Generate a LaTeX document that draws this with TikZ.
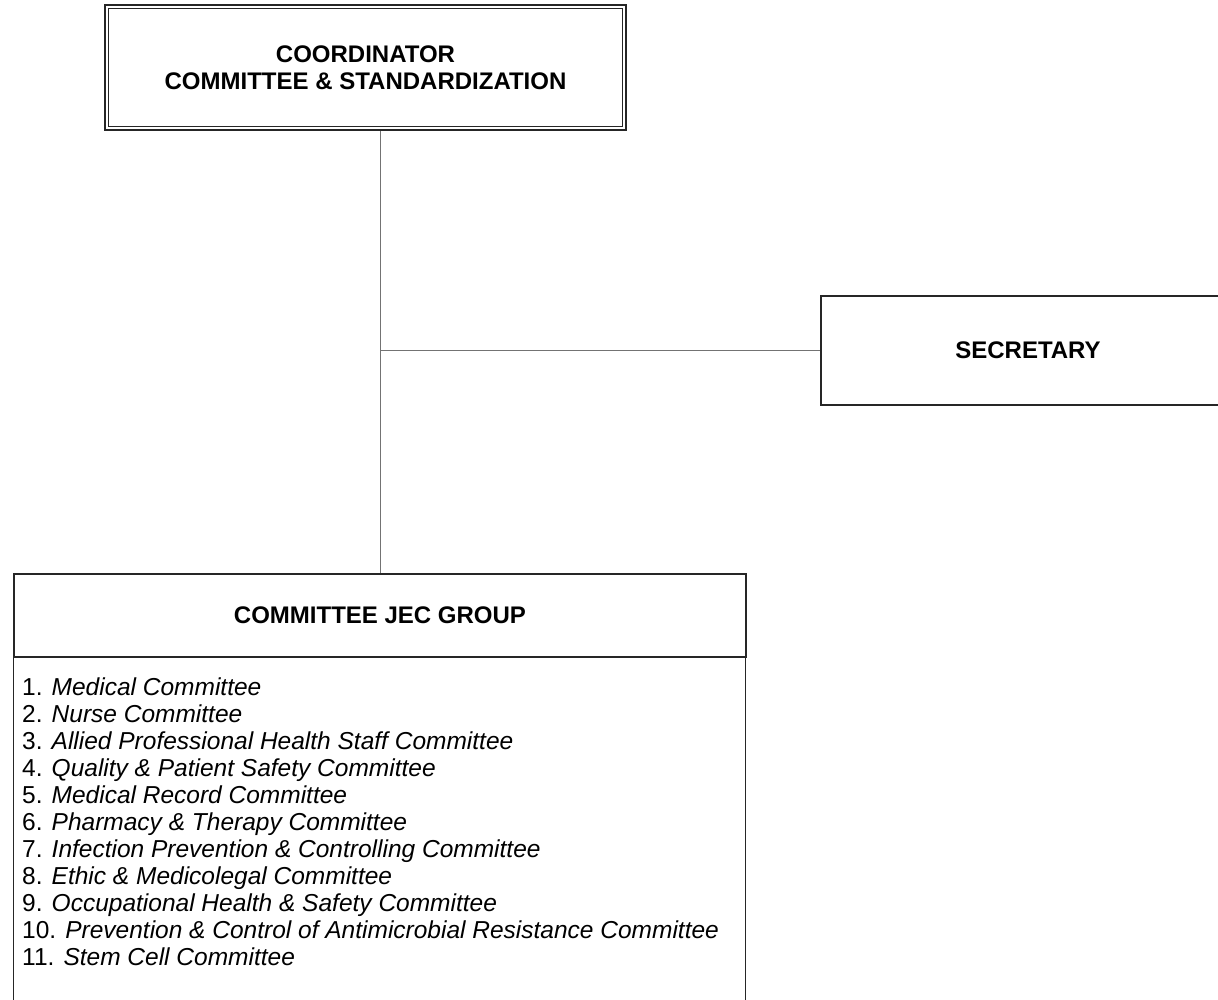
\documentclass[tikz,border=0pt]{standalone}
\usepackage{fontspec}
\setmainfont{Liberation Sans}
\usetikzlibrary{positioning}

\tikzset{
  unitbox/.style={draw=black!85, line width=1.2pt, align=center, font=\bfseries\fontsize{24}{27}\selectfont},
  link/.style={draw=black!55, line width=1pt},
  item/.style={anchor=base west, inner sep=0pt, font=\fontsize{24.5}{27}\selectfont},
}

\begin{document}
\begin{tikzpicture}[x=1pt,y=-1pt]
	\clip (0,0) rectangle (1218,1000);
	% top unit, double frame
	\node (coord) [unitbox, line width=2.4pt, minimum width=521pt, minimum height=125pt] at (365.5,67.5) {COORDINATOR\\COMMITTEE \& STANDARDIZATION};
	\draw[line width=1pt, black!85] ([xshift=4.5pt,yshift=-4.5pt]coord.north west) rectangle ([xshift=-4.5pt,yshift=4.5pt]coord.south east);

	\node (sec) [unitbox, minimum width=414pt, minimum height=109pt] at (1028,350.5) {SECRETARY};
	\node (jec) [unitbox, minimum width=732pt, minimum height=83pt] at (380,615.5) {COMMITTEE JEC GROUP};
	\draw[draw=black!85, line width=1.2pt] (jec.south west) rectangle ++(732,400);

	% connectors
	\coordinate (top) at (jec.north |- coord.south);
	\coordinate (fork) at (jec.north |- sec.west);
	\draw[link] (top) -- (jec.north);
	\draw[link] (fork) -- (sec.west);

	% committee list
	\foreach \n/\t in {1/Medical Committee, 2/Nurse Committee, 3/Allied Professional Health Staff Committee,
		4/{Quality \& Patient Safety Committee}, 5/Medical Record Committee, 6/{Pharmacy \& Therapy Committee},
		7/{Infection Prevention \& Controlling Committee}, 8/{Ethic \& Medicolegal Committee},
		9/{Occupational Health \& Safety Committee}, 10/{Prevention \& Control of Antimicrobial Resistance Committee},
		11/Stem Cell Committee}
		\node (item\n) [item] at (22,668+27*\n) {\n. \textit{\t}};
\end{tikzpicture}
\end{document}
